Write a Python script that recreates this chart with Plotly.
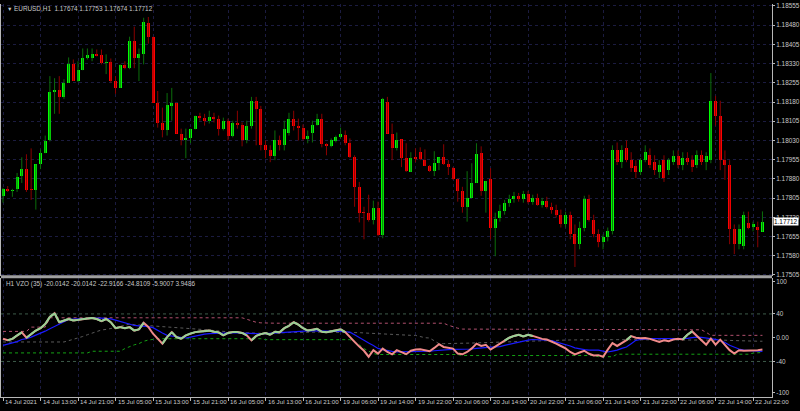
import plotly.graph_objects as go

# ---------------- data ----------------
bars = list(range(163))

opens = [1.17814,1.17841,1.17833,1.17841,1.17891,1.17918,1.17841,1.17837,1.17937,1.17980,
         1.18030,1.18219,1.18227,1.18200,1.18254,1.18327,1.18262,1.18304,1.18350,1.18350,
         1.18366,1.18362,1.18331,1.18335,1.18262,1.18235,1.18323,1.18312,1.18420,1.18350,
         1.18366,1.18489,1.18435,1.18177,1.18100,1.18069,1.18165,1.18177,1.18057,1.18030,
         1.18038,1.18073,1.18127,1.18119,1.18107,1.18123,1.18115,1.18076,1.18107,1.18049,
         1.18100,1.18092,1.18030,1.18088,1.18185,1.18154,1.18011,1.17991,1.17968,1.18030,
         1.18011,1.18061,1.18115,1.18088,1.18080,1.18034,1.18061,1.18092,1.18115,1.18015,
         1.18007,1.18026,1.18042,1.18053,1.18019,1.17964,1.17849,1.17748,1.17748,1.17721,
         1.17768,1.17659,1.18181,1.18057,1.17999,1.18034,1.17961,1.17907,1.17964,1.17984,
         1.17953,1.17930,1.17910,1.17941,1.17964,1.17937,1.17922,1.17880,1.17833,1.17771,
         1.17806,1.17864,1.17980,1.17833,1.17880,1.17690,1.17729,1.17756,1.17787,1.17802,
         1.17814,1.17802,1.17822,1.17791,1.17806,1.17779,1.17795,1.17771,1.17760,1.17740,
         1.17702,1.17737,1.17663,1.17625,1.17690,1.17802,1.17721,1.17663,1.17632,1.17652,
         1.17675,1.17991,1.17945,1.17999,1.17953,1.17930,1.17907,1.17953,1.17972,1.17945,
         1.17907,1.17953,1.17914,1.17945,1.17968,1.17934,1.17961,1.17953,1.17934,1.17972,
         1.17945,1.17953,1.18185,1.18127,1.17953,1.17934,1.17683,1.17625,1.17617,1.17706,
         1.17694,1.17694,1.17674]
highs = [1.17845,1.17852,1.17841,1.17903,1.17964,1.17976,1.17999,1.17937,1.17995,1.18049,
         1.18281,1.18273,1.18281,1.18269,1.18354,1.18346,1.18339,1.18389,1.18389,1.18389,
         1.18385,1.18385,1.18366,1.18350,1.18281,1.18327,1.18339,1.18435,1.18474,1.18389,
         1.18509,1.18512,1.18435,1.18223,1.18158,1.18215,1.18235,1.18177,1.18076,1.18076,
         1.18076,1.18127,1.18138,1.18134,1.18146,1.18138,1.18127,1.18119,1.18115,1.18107,
         1.18146,1.18100,1.18107,1.18200,1.18200,1.18165,1.18030,1.18011,1.18069,1.18049,
         1.18107,1.18138,1.18146,1.18115,1.18092,1.18069,1.18107,1.18134,1.18134,1.18019,
         1.18038,1.18049,1.18080,1.18069,1.18038,1.17972,1.17868,1.17771,1.17818,1.17795,
         1.17791,1.18196,1.18200,1.18096,1.18061,1.18034,1.18019,1.17984,1.17999,1.18003,
         1.17995,1.17934,1.17988,1.17964,1.18015,1.17953,1.17926,1.17880,1.17849,1.17910,
         1.17941,1.18019,1.18007,1.17872,1.17922,1.17748,1.17779,1.17798,1.17818,1.17829,
         1.17825,1.17833,1.17833,1.17818,1.17822,1.17806,1.17810,1.17787,1.17779,1.17760,
         1.17752,1.17752,1.17702,1.17713,1.17814,1.17818,1.17740,1.17683,1.17663,1.17690,
         1.18011,1.18022,1.18011,1.18030,1.17984,1.17953,1.17961,1.18011,1.17999,1.17972,
         1.17953,1.17972,1.17961,1.17991,1.17991,1.17984,1.17984,1.17972,1.17991,1.17991,
         1.17984,1.18293,1.18204,1.18185,1.17991,1.17953,1.17702,1.17702,1.17752,1.17752,
         1.17713,1.17713,1.17753]
lows = [1.17787,1.17829,1.17810,1.17829,1.17864,1.17829,1.17798,1.17760,1.17918,1.17980,
        1.18026,1.18134,1.18134,1.18192,1.18254,1.18262,1.18258,1.18304,1.18346,1.18339,
        1.18358,1.18327,1.18289,1.18254,1.18212,1.18235,1.18308,1.18308,1.18312,1.18262,
        1.18327,1.18408,1.18177,1.18080,1.18042,1.18049,1.18107,1.18057,1.18011,1.17961,
        1.18019,1.18073,1.18107,1.18088,1.18096,1.18100,1.18049,1.18069,1.18030,1.18042,
        1.18076,1.18007,1.18019,1.18076,1.18011,1.17991,1.17961,1.17945,1.17953,1.17991,
        1.17991,1.18049,1.18069,1.18030,1.18030,1.18019,1.18022,1.18088,1.18003,1.17972,
        1.18003,1.18022,1.18038,1.18011,1.17961,1.17771,1.17710,1.17644,1.17713,1.17702,
        1.17656,1.17648,1.18057,1.17953,1.17991,1.17926,1.17907,1.17907,1.17945,1.17953,
        1.17930,1.17907,1.17891,1.17914,1.17934,1.17895,1.17876,1.17791,1.17748,1.17713,
        1.17806,1.17864,1.17814,1.17748,1.17644,1.17578,1.17713,1.17740,1.17771,1.17787,
        1.17791,1.17787,1.17783,1.17779,1.17775,1.17768,1.17764,1.17744,1.17729,1.17690,
        1.17690,1.17644,1.17536,1.17605,1.17675,1.17713,1.17652,1.17613,1.17605,1.17636,
        1.17663,1.17934,1.17922,1.17945,1.17907,1.17883,1.17895,1.17945,1.17922,1.17895,
        1.17883,1.17868,1.17895,1.17934,1.17922,1.17914,1.17934,1.17907,1.17922,1.17934,
        1.17914,1.17941,1.18088,1.17914,1.17876,1.17625,1.17586,1.17605,1.17605,1.17683,
        1.17675,1.17613,1.17674]
closes = [1.17841,1.17833,1.17837,1.17887,1.17918,1.17837,1.17837,1.17937,1.17980,1.18026,
          1.18219,1.18227,1.18200,1.18254,1.18327,1.18262,1.18304,1.18350,1.18362,1.18366,
          1.18358,1.18331,1.18335,1.18262,1.18235,1.18323,1.18312,1.18420,1.18350,1.18366,
          1.18493,1.18435,1.18177,1.18100,1.18069,1.18169,1.18177,1.18057,1.18030,1.18038,
          1.18073,1.18127,1.18119,1.18107,1.18123,1.18115,1.18076,1.18107,1.18049,1.18100,
          1.18092,1.18030,1.18088,1.18185,1.18154,1.18011,1.17991,1.17968,1.18030,1.18011,
          1.18076,1.18115,1.18088,1.18080,1.18034,1.18046,1.18092,1.18115,1.18015,1.18007,
          1.18030,1.18042,1.18057,1.18019,1.17964,1.17849,1.17748,1.17746,1.17721,1.17768,
          1.17659,1.18192,1.18057,1.17999,1.18030,1.17961,1.17910,1.17961,1.17959,1.17957,
          1.17930,1.17910,1.17941,1.17964,1.17937,1.17926,1.17880,1.17833,1.17771,1.17806,
          1.17864,1.17976,1.17833,1.17872,1.17690,1.17725,1.17756,1.17787,1.17802,1.17814,
          1.17802,1.17822,1.17791,1.17806,1.17779,1.17795,1.17771,1.17760,1.17740,1.17702,
          1.17737,1.17663,1.17625,1.17690,1.17802,1.17721,1.17663,1.17632,1.17652,1.17675,
          1.17991,1.17945,1.17991,1.17953,1.17922,1.17907,1.17953,1.17984,1.17934,1.17914,
          1.17934,1.17883,1.17953,1.17968,1.17934,1.17961,1.17945,1.17926,1.17972,1.17945,
          1.17968,1.18185,1.18127,1.17953,1.17934,1.17683,1.17625,1.17683,1.17740,1.17690,
          1.17702,1.17679,1.17712]

vzo = [-1.7,-4.4,-2,4,9,0,6,12,16,23,
       35,41,26,29,31.5,29,30,31.5,32.5,33,
       31.5,28,31.5,26,16,17.8,16,17.8,12,14,
       25,18,6.7,-2,-10,1,9.4,1,-1.7,4,
       7,9.4,10.6,11,12.2,10,9,4,8,9.4,
       9.4,8,4,-4.4,3,6,8,5,10,9,
       16,20,26,22,16,12,13,15,10,9,
       11,12,14,9.4,2,-7,-15,-22,-32,-21,
       -26.7,-18.3,-24,-28,-21,-24,-27.8,-22,-20,-19.4,
       -21,-22.8,-17.2,-11,-15.6,-17,-18.3,-26.7,-28,-24,
       -18,-10,-14,-12,-20,-15,-10,-5,0,3,
       5,2,5,3,0,-2,-3,-6,-10,-14,
       -18,-24,-28,-25,-22,-27,-30,-29.4,-32,-20,
       -9,-13.9,-9,-4,2.8,0,-1,-0.5,-2,-4.4,
       -7.2,-4.4,-6,-3,-1.7,-3,5,10.6,3,-5,
       -11.7,-1.7,-11.7,-3.3,-12.8,-21,-26.7,-21,-22,-22,
       -21.5,-21,-20.0142]
vzo_up = [0,0,1,1,1,0,1,1,1,1,
          1,1,1,1,1,1,1,1,1,1,
          1,1,1,1,1,1,1,1,1,1,
          1,0,0,0,0,1,1,1,1,1,
          1,1,1,1,1,1,1,1,1,1,
          1,1,1,0,1,1,1,1,1,1,
          1,1,1,1,1,1,1,1,1,1,
          1,1,1,1,0,0,0,0,0,0,
          0,0,0,0,0,0,0,0,0,0,
          0,0,0,0,0,0,0,0,0,0,
          0,0,0,0,0,0,0,0,1,1,
          1,1,1,1,0,0,0,0,0,0,
          0,0,0,0,0,0,0,0,0,0,
          0,0,0,0,1,0,0,0,0,0,
          0,0,0,0,0,0,1,1,0,0,
          0,0,0,0,0,0,0,0,0,0,
          0,0,0]
signal = [-12.8,-11,-9,-6.5,-3,-1.7,1,4,7.5,11,
          15,19,22,27,30.6,31.5,32,32.5,32.8,32.8,
          32.8,32.8,32.5,31.7,29.5,27.5,25,23,20.6,20,
          19.5,18.5,17,12,8,4,3,1.5,0,-0.5,
          1,3,5,6,7,7.5,8,8.3,8.3,8.3,
          8,7.5,7,6.7,6.7,6.7,7,7.5,8,8.5,
          9,10,11,11.5,11.5,11.5,11.5,11.5,11.2,11,
          11,11,10.5,10,9.4,5,0,-4.4,-9,-13,
          -18,-20,-22,-23,-24,-24,-24,-24,-23.5,-23,
          -23,-22.8,-22,-21,-20.5,-20,-19.5,-19.5,-20,-20,
          -19,-18,-17,-16,-16,-15.5,-15,-13,-11,-9,
          -7,-5,-4,-3,-3,-3,-4,-5,-7,-9,
          -11,-14,-17,-19,-20,-21,-21,-21,-22.5,-24,
          -22.5,-21,-18,-15.6,-10,-4.4,-3,-2,-1.7,-1.7,
          -1.7,-1.7,-1.7,-1.7,-1.7,-1.7,-1,0,1.1,0.5,
          -0.5,-1.5,-2.8,-5,-8,-12.8,-16,-19,-21,-21.5,
          -22,-22.5,-22.9166]
upper = [10.6,10.6,10.6,10.6,10.6,10.6,17.8,17.8,17.8,17.8,
         33.5,33.5,33.5,33.5,33.5,33.5,33.5,33.5,33.5,33.5,
         33.5,33.5,33.5,33.5,33.5,33.5,33.5,33.5,33.5,33.5,
         33.5,33.5,33.5,33.5,33.5,33.5,33.5,33.5,33.5,33.5,
         33.5,33.5,33.5,33.5,33.5,33.5,33.5,33.5,33.5,33.5,
         33.5,33.5,31,28,26,25,24.4,24.4,24.4,24.4,
         24.4,24.4,24.4,24.4,24.4,24.4,24.4,24.4,24.4,24.4,
         24.4,24.4,24.4,24.4,24.4,24.4,24.4,24.4,24.4,24.4,
         24.4,24.4,24.4,24.4,24.4,24.4,24.4,24.4,24.4,24.4,
         24.4,24.4,24.4,24.4,24.4,21,18,16,14.5,14.5,
         14.5,14.5,14.5,14.5,14.5,14.5,14.5,14.5,14.5,14.5,
         14.5,13.3,13.3,13.3,13.3,13.3,13.3,13.3,13.3,13.3,
         13.3,13.3,13.3,13.3,13.3,13.3,13.3,13.3,13.3,13.3,
         13.3,13.3,13.3,13.3,13.3,13.3,13.3,13.3,13.3,13.3,
         13.3,13.3,13.3,13.3,13.3,13.3,13.3,13.3,13.3,13.3,
         9,4,4,4,4,4,4,4,4,4,
         4,4,3.9486]
middle = [-7.2,-7.2,-7.2,-7.2,-7.2,-7.2,-7.2,-7.2,-7.2,-7.2,
          -7.2,-7.2,-7.2,-7.2,-5,-3,-1,2,5,8,
          11,13,14,15,17,19,21,23,22,21.5,
          21,20.5,20,19.5,19,18.5,18,17,16.5,16,
          15.5,15,14.5,14,13,12,11,10.5,10,9.4,
          9,8.5,8,7.5,7,6.7,7,7.5,8,8,
          8.5,8.5,9,9,9.4,9.4,9.4,9.4,9.4,9.4,
          9.4,9.4,9.4,9.4,9.4,9,8.5,8,7.5,7,
          7,6.7,6.7,6,5.5,5,4.5,4,3.9,2,
          0,-0.5,-5,-10,-10,-10,-10,-10,-9.5,-9.5,
          -9,-8.7,-8.4,-8,-7.7,-7.4,-7,-6.7,-6.4,-6.2,
          -6,-5.8,-5.5,-5.3,-5,-4.8,-4.6,-4.4,-4.2,-4.1,
          -4,-3.8,-3.6,-3.5,-3.4,-3.4,-3.3,-3.3,-3.3,-3.3,
          -3.3,-3.3,-3.3,-3.3,-3.3,-3.3,-3.3,-3.3,-3.3,-3.3,
          -3.3,-3.3,-3.3,-3.3,-3.3,-3.3,-3.3,-3.3,-3.3,-3.3,
          -3.3,-3.3,-3.5,-3.8,-4.2,-4.6,-5,-5.3,-5.5,-5.7,
          -5.8,-5.9,-5.9007]
lower = [-25.6,-25.6,-25.6,-25.6,-25.6,-25.6,-25.6,-25.6,-25.6,-25.6,
         -25.6,-25.6,-25.6,-25.6,-25.6,-25.6,-25.6,-25.6,-25.6,-22.8,
         -22.8,-22.8,-22.8,-22.8,-22.8,-22.8,-18.3,-15,-12,-10,
         -6,-4,-2.8,-1.7,-1.7,-1.7,-1.7,-1.7,-1.7,-1.7,
         -1.7,-1.7,-1.7,-1.7,-1.7,-1.7,-1.7,-1.7,-1.7,-1.7,
         -1.7,-1.7,-1.7,-1.7,-1.7,-1.7,-3.3,-3.3,-3.3,-3.3,
         -3.3,-3.3,-3.3,-3.3,-3.3,-3.3,-3.3,-3.3,-3.3,-3.3,
         -3.3,-3.3,-3.3,-3.3,-3.3,-7.2,-12,-18.3,-23,-26.7,
         -28.3,-28.3,-28.3,-28.3,-28.3,-28.3,-28.3,-28.3,-28.3,-28.3,
         -28.3,-28.3,-28.3,-28.3,-28.3,-28.3,-28.3,-28.3,-30,-30,
         -30,-30,-30,-30,-30,-30,-30,-30,-30,-30,
         -30,-30,-30,-30,-30,-30,-30,-30,-30,-30,
         -30,-30,-30,-30,-30,-30,-30,-32,-32,-32,
         -32,-27.8,-27.8,-27.8,-27.8,-27.8,-27.8,-27.8,-27.8,-27.8,
         -27.8,-27.8,-27.8,-27.8,-27.8,-27.8,-27.8,-27.8,-27.8,-27.8,
         -27.8,-27.8,-27.8,-27.8,-27.8,-27.8,-27.8,-27.8,-27.8,-27.8,
         -26,-25.5,-24.8109]
levels = [40, -40]

price_tick_values = [1.18555,1.18480,1.18405,1.18330,1.18255,1.18180,1.18105,1.18030,
                     1.17955,1.17880,1.17805,1.17730,1.17655,1.17580,1.17505]
price_tick_labels = ["1.18555","1.18480","1.18405","1.18330","1.18255","1.18180","1.18105","1.18030",
                     "1.17955","1.17880","1.17805","1.17730","1.17655","1.17580","1.17505"]
# MT4 draws the panel max/min labels just inside the window edge
ind_tick_values = [95, 40, 0, -40, -92]
ind_tick_labels = ["100", "40", "0.00", "-40", "-100"]
time_tick_bars = [0,8,16,24,32,40,48,56,64,72,80,88,96,104,112,120,128,136,144,152,160]
time_tick_labels = ["14 Jul 2021","14 Jul 13:00","14 Jul 21:00","15 Jul 05:00","15 Jul 13:00",
                    "15 Jul 21:00","16 Jul 05:00","16 Jul 13:00","16 Jul 21:00","19 Jul 06:00",
                    "19 Jul 14:00","19 Jul 22:00","20 Jul 06:00","20 Jul 14:00","20 Jul 22:00",
                    "21 Jul 06:00","21 Jul 14:00","21 Jul 22:00","22 Jul 06:00","22 Jul 14:00",
                    "22 Jul 22:00"]
header_text = "EURUSD,H1  1.17674 1.17753 1.17674 1.17712"
ind_header_text = "H1 VZO (35) -20.0142 -20.0142 -22.9166 -24.8109 -5.9007 3.9486"

# ---------------- styles ----------------
BULL = "#00ff00"
BEAR = "#ff0000"
BULL_WICK = "#0b6e0b"
BEAR_WICK = "#8a0000"
AXIS = "#b8b8b8"
GRID = "#1b1b40"
TXT = "#c8c8c8"
FONT = "Liberation Sans, Arial, sans-serif"
FS = 6.4

fig = go.Figure()

# wicks
for bull, col in ((True, BULL_WICK), (False, BEAR_WICK)):
    wx, wy = [], []
    for i, o, h, l, c in zip(bars, opens, highs, lows, closes):
        if (c >= o) == bull:
            wx += [i, i, None]
            wy += [l, h, None]
    fig.add_trace(go.Scatter(x=wx, y=wy, mode="lines", line=dict(color=col, width=1),
                             hoverinfo="skip", xaxis="x", yaxis="y"))

# bodies
body_base = [min(o, c) for o, c in zip(opens, closes)]
body_h = [max(abs(c - o), 0.00004) for o, c in zip(opens, closes)]
body_col = [BULL if c >= o else BEAR for o, c in zip(opens, closes)]
fig.add_trace(go.Bar(x=bars, y=body_h, base=body_base, width=0.64,
                     marker=dict(color=body_col, line=dict(width=0)),
                     xaxis="x", yaxis="y"))

# indicator
fig.add_trace(go.Scatter(x=bars, y=upper, mode="lines",
                         line=dict(color="#b0506e", width=1, dash="dot"), xaxis="x", yaxis="y2"))
fig.add_trace(go.Scatter(x=bars, y=middle, mode="lines",
                         line=dict(color="#5a5a5a", width=1, dash="dot"), xaxis="x", yaxis="y2"))
fig.add_trace(go.Scatter(x=bars, y=lower, mode="lines",
                         line=dict(color="#14a014", width=1, dash="dot"), xaxis="x", yaxis="y2"))
fig.add_trace(go.Scatter(x=bars, y=signal, mode="lines",
                         line=dict(color="#1a1aff", width=1.2), xaxis="x", yaxis="y2"))
fig.add_trace(go.Scatter(x=bars, y=vzo, mode="lines",
                         line=dict(color="#f08a8a", width=2), xaxis="x", yaxis="y2"))
gx, gy = [], []
for i in range(1, len(bars)):
    if vzo_up[i]:
        gx += [bars[i - 1], bars[i], None]
        gy += [vzo[i - 1], vzo[i], None]
fig.add_trace(go.Scatter(x=gx, y=gy, mode="lines",
                         line=dict(color="#96d296", width=2), xaxis="x", yaxis="y2"))

shapes = []
for lv in levels:
    shapes.append(dict(type="line", xref="paper", x0=0, x1=1, yref="y2", y0=lv, y1=lv,
                       line=dict(color="#3d5a4a", width=1, dash="dot"), layer="below"))
# panel separator
shapes.append(dict(type="rect", xref="paper", x0=0, x1=1, yref="paper",
                   y0=1 - 279 / 411, y1=1 - 276 / 411, fillcolor="#a0a0a0", line=dict(width=0)))

annotations = []
for b, t in zip(time_tick_bars, time_tick_labels):
    annotations.append(dict(x=b, xref="x", y=1 - 403.5 / 411, yref="paper", text=t,
                            showarrow=False, xanchor="left", yanchor="middle", xshift=0,
                            font=dict(size=6.2, color=TXT, family=FONT)))
annotations.append(dict(x=4 / 773, xref="paper", y=1 - 7 / 411, yref="paper", text="▼",
                        showarrow=False, xanchor="left", yanchor="middle",
                        font=dict(size=5.5, color=TXT, family=FONT)))
annotations.append(dict(x=11 / 773, xref="paper", y=1 - 7 / 411, yref="paper", text=header_text,
                        showarrow=False, xanchor="left", yanchor="middle",
                        font=dict(size=FS, color=TXT, family=FONT)))
annotations.append(dict(x=3 / 773, xref="paper", y=1 - 285 / 411, yref="paper", text=ind_header_text,
                        showarrow=False, xanchor="left", yanchor="middle",
                        font=dict(size=FS, color=TXT, family=FONT)))
annotations.append(dict(x=1, xref="paper", y=closes[-1], yref="y", text=f"{closes[-1]:.5f}",
                        showarrow=False, xanchor="left", yanchor="middle", xshift=1,
                        bgcolor="#ffffff", borderpad=0,
                        font=dict(size=FS, color="#000000", family=FONT)))

fig.update_layout(
    width=800, height=411,
    margin=dict(l=0, r=27, t=0, b=0),
    paper_bgcolor="#000000", plot_bgcolor="#000000",
    showlegend=False, bargap=0, hovermode=False,
    xaxis=dict(range=[-0.43, 164.04], anchor="y2", tickvals=time_tick_bars,
               showticklabels=False, ticks="outside", ticklen=3, tickcolor=AXIS,
               showgrid=True, gridcolor=GRID, griddash="dot", gridwidth=1,
               showline=True, linecolor=AXIS, linewidth=1, zeroline=False),
    yaxis=dict(domain=[1 - 277 / 411, 1 - 2 / 411], range=[1.174996, 1.185627], side="right",
               tickvals=price_tick_values, ticktext=price_tick_labels,
               ticks="outside", ticklen=2, tickcolor=AXIS,
               tickfont=dict(size=FS, color=TXT, family=FONT),
               showgrid=True, gridcolor=GRID, griddash="dot",
               showline=True, linecolor=AXIS, mirror=True, zeroline=False),
    yaxis2=dict(domain=[1 - 399 / 411, 1 - 279 / 411], range=[-100, 100], side="right",
                tickvals=ind_tick_values, ticktext=ind_tick_labels,
                ticks="outside", ticklen=2, tickcolor=AXIS,
                tickfont=dict(size=FS, color=TXT, family=FONT),
                showgrid=False, showline=True, linecolor=AXIS, mirror=True, zeroline=False),
    shapes=shapes, annotations=annotations,
)

fig.write_html("out.html",
               config={"displayModeBar": False, "staticPlot": True},
               post_script="document.body.style.margin='0px';"
                           "document.body.style.padding='0px';"
                           "document.body.style.overflow='hidden';"
                           "document.documentElement.style.overflow='hidden';")
